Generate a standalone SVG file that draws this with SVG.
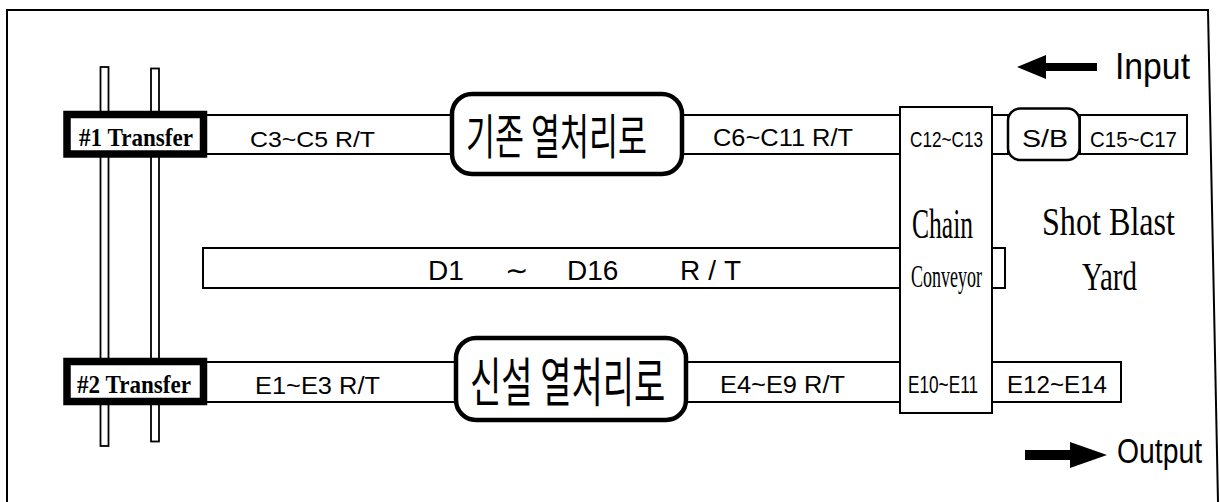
<svg xmlns="http://www.w3.org/2000/svg" width="1220" height="502" viewBox="0 0 1220 502">
<style>
.ln{fill:#fff;stroke:#000;stroke-width:2}
.thin{fill:#fff;stroke:#000;stroke-width:1.8}
.oval{fill:#fff;stroke:#000;stroke-width:4.5}
.tb{fill:#fff;stroke:#000;stroke-width:7.5}
.sans{font-family:"Liberation Sans",Arial,sans-serif;fill:#000}
.ser{font-family:"Liberation Serif","Times New Roman",serif;fill:#000}
.trn{font-family:"Liberation Serif",serif;font-weight:bold;fill:#000}
.kr{font-family:"Noto Sans CJK KR","Noto Sans",sans-serif;font-weight:400;fill:#000}
</style>
<rect width="1220" height="502" fill="#fff"/>
<g id="frame">
<path d="M7 502 V10 H1208 L1218 502" fill="none" stroke="#000" stroke-width="2"/>
</g>
<g id="rails">
<rect class="thin" x="100.5" y="67" width="8" height="379"/>
<rect class="thin" x="151" y="68.5" width="8" height="373"/>
</g>
<g id="connectors">
<rect class="ln" x="205" y="115" width="695" height="39"/>
<rect class="ln" x="992" y="115" width="16" height="39"/>
<rect class="ln" x="203" y="248" width="697" height="40"/>
<path d="M992 248 H1005 V288 H992" fill="none" stroke="#000" stroke-width="2"/>
<rect class="ln" x="205" y="362" width="695" height="40"/>
</g>
<g id="transfer1">
<rect class="tb" x="67" y="114.5" width="136.5" height="39.5"/>
<text class="trn" x="79" y="146" font-size="25" textLength="114" lengthAdjust="spacingAndGlyphs">#1 Transfer</text>
</g>
<g id="transfer2">
<rect class="tb" x="67" y="361.5" width="136.5" height="40"/>
<text class="trn" x="77" y="393" font-size="25" textLength="114" lengthAdjust="spacingAndGlyphs">#2 Transfer</text>
</g>
<g id="c3c5">
<text class="sans" x="250" y="147" font-size="22" textLength="125" lengthAdjust="spacingAndGlyphs">C3~C5 R/T</text>
</g>
<g id="furnace1">
<rect class="oval" x="452" y="94" width="230" height="80" rx="20"/>
<text class="kr" x="466" y="0" font-size="31.5" transform="matrix(1 0 0 1.52 0 154)">기존 열처리로</text>
</g>
<g id="c6c11">
<text class="sans" x="713" y="146" font-size="23" textLength="140" lengthAdjust="spacingAndGlyphs">C6~C11 R/T</text>
</g>
<g id="chainconveyor">
<rect class="ln" x="900" y="107" width="92" height="306"/>
<text class="sans" x="910" y="147" font-size="22" textLength="73" lengthAdjust="spacingAndGlyphs">C12~C13</text>
<text class="ser" x="912" y="238" font-size="42" textLength="61" lengthAdjust="spacingAndGlyphs">Chain</text>
<text class="ser" x="911" y="287" font-size="31" textLength="71" lengthAdjust="spacingAndGlyphs">Conveyor</text>
<text class="sans" x="908" y="393" font-size="23" textLength="70" lengthAdjust="spacingAndGlyphs">E10~E11</text>
</g>
<g id="sb">
<rect x="1008" y="108.5" width="71.5" height="51.5" rx="12" fill="#fff" stroke="#000" stroke-width="2.5"/>
<text class="sans" x="1022" y="147" font-size="23" textLength="46" lengthAdjust="spacingAndGlyphs">S/B</text>
</g>
<g id="c15c17">
<rect class="ln" x="1080" y="115" width="107" height="39"/>
<text class="sans" x="1090" y="147" font-size="22" textLength="87" lengthAdjust="spacingAndGlyphs">C15~C17</text>
</g>
<g id="dtrack">
<text class="sans" y="280" font-size="28"><tspan x="428">D1 </tspan><tspan x="505">∼ </tspan><tspan x="567">D16 </tspan><tspan x="680" letter-spacing="8">R/T</tspan></text>
</g>
<g id="e1e3">
<text class="sans" x="255" y="394" font-size="23" textLength="125" lengthAdjust="spacingAndGlyphs">E1~E3 R/T</text>
</g>
<g id="furnace2">
<rect class="oval" x="456" y="338" width="230" height="82" rx="20"/>
<text class="kr" x="470" y="0" font-size="34" transform="matrix(1 0 0 1.56 0 402)">신설 열처리로</text>
</g>
<g id="e4e9">
<text class="sans" x="720" y="393" font-size="23" textLength="125" lengthAdjust="spacingAndGlyphs">E4~E9 R/T</text>
</g>
<g id="e12e14">
<rect class="ln" x="992" y="362" width="129" height="40"/>
<text class="sans" x="1007" y="393" font-size="23" textLength="100" lengthAdjust="spacingAndGlyphs">E12~E14</text>
</g>
<g id="yard">
<text class="ser" x="1042" y="235" font-size="40" textLength="133" lengthAdjust="spacingAndGlyphs">Shot Blast</text>
<text class="ser" x="1082" y="290" font-size="40" textLength="55" lengthAdjust="spacingAndGlyphs">Yard</text>
</g>
<g id="input">
<polygon points="1017,67 1046,55 1046,63 1097,63 1097,71 1046,71 1046,79" fill="#000"/>
<text class="sans" x="1115" y="79" font-size="37" textLength="75" lengthAdjust="spacingAndGlyphs">Input</text>
</g>
<g id="output">
<polygon points="1107,455 1070,442 1070,450 1025,450 1025,460 1070,460 1070,468" fill="#000"/>
<text class="sans" x="1117" y="463" font-size="35" textLength="85" lengthAdjust="spacingAndGlyphs">Output</text>
</g>
</svg>
